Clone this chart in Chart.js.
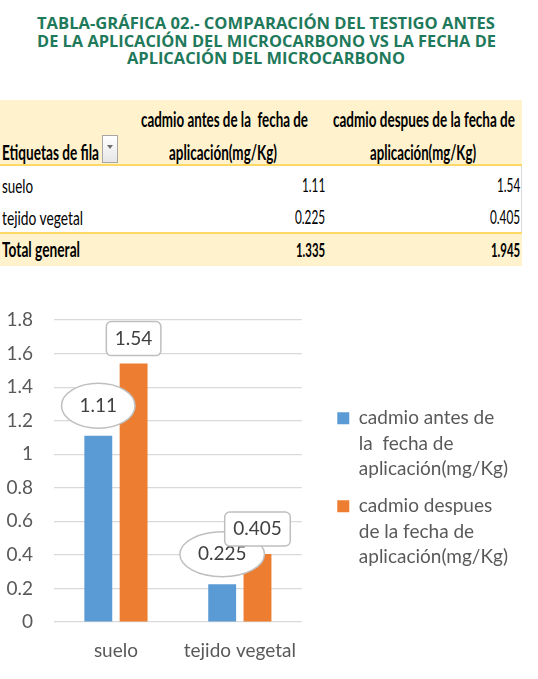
<!DOCTYPE html>
<html lang="es"><head><meta charset="utf-8">
<script src="https://cdn.jsdelivr.net/npm/chart.js@4.4.1/dist/chart.umd.min.js"></script>
<style>
html,body{margin:0;padding:0;background:#fff;}
body{width:538px;height:679px;position:relative;overflow:hidden;}
.ttl{position:absolute;white-space:pre;font-family:'Open Sans',sans-serif;font-weight:700;font-size:16.5px;line-height:16.5px;color:#1f795b;transform-origin:0 0;}
.tx{position:absolute;white-space:pre;font-family:Lato,sans-serif;font-size:20px;line-height:20px;color:#000;transform-origin:0 0;}
.b{font-weight:700;}
.band{position:absolute;left:0;width:522px;}
#chartWrap{position:absolute;left:0;top:280px;width:538px;height:399px;}
canvas{display:block;}
</style></head><body>
<div class="band" style="top:100px;height:64px;background:#FFF2CC"></div>
<div class="band" style="top:164px;height:2px;background:#FFD966"></div>
<div class="band" style="top:232px;height:2px;background:#FFD966"></div>
<div class="band" style="top:234px;height:32px;background:#FFF2CC"></div>
<div style="position:absolute;left:521px;top:166px;width:1px;height:66px;background:#D9D9D9"></div>
<div style="position:absolute;left:102px;top:135px;width:16px;height:28px;box-sizing:border-box;border:1px solid #A6A6A6;background:linear-gradient(#ffffff,#e6e6e6);">
  <div style="position:absolute;left:3.5px;top:9px;width:0;height:0;border-left:3.5px solid transparent;border-right:3.5px solid transparent;border-top:4px solid #6f6f6f"></div>
</div>
<div id="chartWrap"><canvas id="c" width="538" height="399"></canvas></div>
<script>
// ---------- data ----------
const titleLines = [
  'TABLA-GRÁFICA 02.- COMPARACIÓN DEL TESTIGO ANTES',
  'DE LA APLICACIÓN DEL MICROCARBONO VS LA FECHA DE',
  'APLICACIÓN DEL MICROCARBONO'
];
const rowHeader = 'Etiquetas de fila';
const colHeaderAntes = ['cadmio antes de la  fecha de', 'aplicación(mg/Kg)'];
const colHeaderDespues = ['cadmio despues de la fecha de', 'aplicación(mg/Kg)'];
const categories = ['suelo', 'tejido vegetal'];
const antes = [1.11, 0.225];
const despues = [1.54, 0.405];
const totalLabel = 'Total general';
const totals = [1.335, 1.945];
const legendAntes = ['cadmio antes de', 'la  fecha de', 'aplicación(mg/Kg)'];
const legendDespues = ['cadmio despues', 'de la fecha de', 'aplicación(mg/Kg)'];
const yTickLabels = ['0', '0.2', '0.4', '0.6', '0.8', '1', '1.2', '1.4', '1.6', '1.8'];

// ---------- text layout helpers ----------
function put(cls, text, x, baseline, align, width, scale, size) {
  const d = document.createElement('div');
  d.className = cls;
  d.textContent = text;
  d.style.fontSize = size + 'px';
  d.style.lineHeight = size + 'px';
  document.body.appendChild(d);
  const nat = d.getBoundingClientRect().width;
  const s = width ? width / nat : scale;
  const w = nat * s;
  let left = align === 'left' ? x : align === 'right' ? x - w : x - w / 2;
  d.style.left = left + 'px';
  d.style.top = (baseline - 0.887 * size) + 'px';
  d.style.transform = 'scaleX(' + s + ')';
}

function buildPage() {
  const titleW = [458, 459, 278];
  const titleBase = [29.3, 47.3, 65];
  titleLines.forEach((t, i) => put('ttl', t, 266, titleBase[i], 'center', titleW[i], null, 16.5));

  put('tx b', rowHeader, 2, 159.3, 'left', 97, null, 20);
  put('tx b', colHeaderAntes[0], 224.5, 126.7, 'center', 167, null, 20);
  put('tx b', colHeaderAntes[1], 223, 159.3, 'center', 108, null, 20);
  put('tx b', colHeaderDespues[0], 424, 126.7, 'center', 182, null, 20);
  put('tx b', colHeaderDespues[1], 423, 159.3, 'center', 106, null, 20);

  const rowBase = [192.3, 224.3];
  const rowW = [31, 81];
  categories.forEach((c, i) => {
    put('tx', c, 2, rowBase[i], 'left', rowW[i], null, 20);
    put('tx', String(antes[i]), 325, rowBase[i], 'right', null, 0.62, 19);
    put('tx', String(despues[i]), 520, rowBase[i], 'right', null, 0.62, 19);
  });
  put('tx b', totalLabel, 2, 256.8, 'left', 78, null, 20);
  put('tx b', String(totals[0]), 325, 256.8, 'right', null, 0.6, 19);
  put('tx b', String(totals[1]), 520, 256.8, 'right', null, 0.6, 19);
}

// ---------- chart ----------
const calloutPlugin = {
  id: 'callouts',
  afterDatasetsDraw(chart) {
    const ctx = chart.ctx;
    ctx.save();
    ctx.font = '19px Lato';
    ctx.textAlign = 'center';
    ctx.textBaseline = 'middle';
    const n = chart.data.labels.length;
    for (let i = 0; i < n; i++) {
      // ellipse callout for first series
      const b0 = chart.getDatasetMeta(0).data[i];
      const t0 = String(chart.data.datasets[0].data[i]);
      const w0 = ctx.measureText(t0).width;
      const cy0 = b0.y - 30;
      ctx.beginPath();
      ctx.ellipse(b0.x, cy0, w0 / 2 + 18, 22.5, 0, 0, Math.PI * 2);
      ctx.fillStyle = '#ffffff';
      ctx.fill();
      ctx.lineWidth = 1.5;
      ctx.strokeStyle = '#BFBFBF';
      ctx.stroke();
      ctx.fillStyle = '#404040';
      ctx.fillText(t0, b0.x, cy0);
      // rounded-rectangle callout for second series
      const b1 = chart.getDatasetMeta(1).data[i];
      const t1 = String(chart.data.datasets[1].data[i]);
      const w1 = ctx.measureText(t1).width + 17;
      const h1 = 34;
      const cy1 = b1.y - 25;
      ctx.beginPath();
      ctx.roundRect(b1.x - w1 / 2, cy1 - h1 / 2, w1, h1, 5);
      ctx.fillStyle = '#ffffff';
      ctx.fill();
      ctx.lineWidth = 1.5;
      ctx.strokeStyle = '#BFBFBF';
      ctx.stroke();
      ctx.fillStyle = '#404040';
      ctx.fillText(t1, b1.x, cy1);
    }
    ctx.restore();
  }
};

function buildChart() {
  new Chart(document.getElementById('c'), {
    type: 'bar',
    data: {
      labels: categories,
      datasets: [
        { label: legendAntes, data: antes, backgroundColor: '#5B9BD5', borderWidth: 0,
          categoryPercentage: 0.57, barPercentage: 0.79 },
        { label: legendDespues, data: despues, backgroundColor: '#ED7D31', borderWidth: 0,
          categoryPercentage: 0.57, barPercentage: 0.79 }
      ]
    },
    options: {
      responsive: false,
      animation: false,
      layout: { padding: { top: 40, right: 20, bottom: 17, left: 0 } },
      plugins: {
        tooltip: { enabled: false },
        title: { display: false },
        legend: {
          position: 'right',
          align: 'center',
          maxWidth: 260,
          labels: {
            boxWidth: 12, boxHeight: 12, padding: 11.5,
            color: '#595959',
            font: { family: 'Lato', size: 19, lineHeight: 1.342 }
          }
        }
      },
      scales: {
        x: {
          grid: { display: false, drawTicks: false },
          border: { display: false },
          ticks: { color: '#595959', padding: 17, maxRotation: 0, font: { family: 'Lato', size: 19 } },
          afterFit: (s) => { s.height = 40; }
        },
        y: {
          min: 0, max: 1.8,
          grid: { color: '#D9D9D9', lineWidth: 1.2, drawTicks: false },
          border: { display: false },
          ticks: {
            stepSize: 0.2, padding: 21, color: '#595959',
            font: { family: 'Lato', size: 19 },
            callback: (v, i) => yTickLabels[i]
          },
          afterFit: (s) => { s.width = 54; }
        },
        yR: {
          position: 'right',
          display: true,
          grid: { display: false, drawTicks: false },
          border: { display: false },
          ticks: { display: false },
          afterFit: (s) => { s.width = 24; }
        }
      }
    },
    plugins: [calloutPlugin]
  });
}

Promise.all([
  document.fonts.load('19px Lato'),
  document.fonts.load('bold 20px Lato'),
  document.fonts.load('20px Lato'),
  document.fonts.load('bold 16.5px "Open Sans"')
]).catch(() => {}).then(() => { buildPage(); buildChart(); });
</script>
</body></html>
